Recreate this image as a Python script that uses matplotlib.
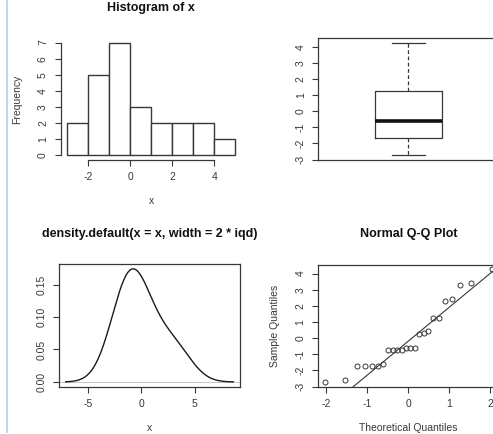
import matplotlib
matplotlib.use("Agg")
import matplotlib.pyplot as plt
from matplotlib.lines import Line2D
import numpy as np
from statistics import NormalDist

plt.rcParams['font.family'] = ['Liberation Sans', 'DejaVu Sans']
plt.rcParams['font.size'] = 7.5
plt.rcParams['axes.unicode_minus'] = False

# sample values (sorted)
x = np.array([-2.72, -2.58, -1.70, -1.70, -1.70, -1.70, -1.58,
              -0.72, -0.72, -0.72, -0.72, -0.60, -0.60, -0.60,
              0.28, 0.32, 0.42, 1.22, 1.25, 2.30, 2.42, 3.27, 3.42, 4.28])
hist_breaks = np.arange(-3, 6, 1)
hist_xticks = [-2, 0, 2, 4]
hist_yticks = [0, 1, 2, 3, 4, 5, 6, 7]
box_yticks = [-3, -2, -1, 0, 1, 2, 3, 4]
dens_xticks = [-5, 0, 5]
dens_yticks = [0.00, 0.05, 0.10, 0.15]
qq_xticks = [-2, -1, 0, 1, 2]
bandwidth = 1.45

W, H = 493, 434
ink = '#383838'
fig = plt.figure(figsize=(W / 100, H / 100), dpi=100)


def panel(left, top, right, bottom):
    return fig.add_axes([left / W, 1 - bottom / H, (right - left) / W, (bottom - top) / H])


def r_range(lo, hi):
    d = (hi - lo) * 0.04
    return lo - d, hi + d


def style(ax, frame=True):
    for s in ax.spines.values():
        s.set_color(ink)
        s.set_linewidth(0.9)
        s.set_visible(frame)
    ax.tick_params(colors=ink, length=4.5, width=0.8, pad=4.5, labelsize=7.5)
    ax.tick_params(axis='y', labelrotation=90)
    for lab in ax.get_yticklabels():
        lab.set_va('center')


def labels(ax, title=None, xlabel=None, ylabel=None, w=181.0, h=122.0):
    if title:
        ax.set_title(title, fontsize=9, fontweight='bold', color='#111111',
                     y=1 + 22 / h, va='center')
    if xlabel:
        ax.set_xlabel(xlabel, color=ink, va='center')
        ax.xaxis.set_label_coords(0.5, -41.5 / h)
    if ylabel:
        ax.set_ylabel(ylabel, color=ink, va='center')
        ax.yaxis.set_label_coords(-43 / w, 0.5)


# histogram
ax1 = panel(60.5, 38, 242, 160)
counts, _ = np.histogram(x, bins=hist_breaks)
ax1.bar(hist_breaks[:-1], counts, width=1, align='edge', color='white',
        edgecolor=ink, linewidth=1.0)
ax1.set_xlim(*r_range(hist_breaks[0], hist_breaks[-1]))
ax1.set_ylim(*r_range(0, counts.max()))
ax1.set_xticks(hist_xticks)
ax1.set_yticks(hist_yticks)
style(ax1, frame=False)
ax1.spines['bottom'].set_visible(True)
ax1.spines['left'].set_visible(True)
ax1.spines['bottom'].set_bounds(hist_xticks[0], hist_xticks[-1])
ax1.spines['left'].set_bounds(hist_yticks[0], hist_yticks[-1])
labels(ax1, 'Histogram of x', 'x', 'Frequency')


# boxplot with Tukey hinges
def fivenum(v):
    v = np.sort(v)
    n = len(v)
    n4 = np.floor((n + 3) / 2) / 2
    d = np.array([1, n4, (n + 1) / 2, n + 1 - n4, n]) - 1
    return 0.5 * (v[np.floor(d).astype(int)] + v[np.ceil(d).astype(int)])


lo, q1, med, q3, hi = fivenum(x)
ax2 = panel(318.3, 38, 498.5, 159.5)
ax2.bxp([dict(whislo=lo, q1=q1, med=med, q3=q3, whishi=hi, fliers=[])],
        positions=[1], widths=0.37, showfliers=False,
        boxprops=dict(color=ink, linewidth=0.9),
        medianprops=dict(color='#111111', linewidth=2.6),
        whiskerprops=dict(color=ink, linewidth=0.9, linestyle=(0, (3, 2))),
        capprops=dict(color=ink, linewidth=0.9), capwidths=0.185)
ax2.set_xlim(0.5, 1.5)
ax2.set_ylim(*r_range(x.min(), x.max()))
ax2.set_yticks(box_yticks)
ax2.set_xticks([])
style(ax2)
ax2.tick_params(axis='x', length=0)

# kernel density
grid = np.linspace(x.min() - 3 * bandwidth, x.max() + 3 * bandwidth, 512)
dens = np.exp(-0.5 * ((grid[:, None] - x[None, :]) / bandwidth) ** 2).sum(axis=1)
dens /= len(x) * bandwidth * np.sqrt(2 * np.pi)
ax3 = panel(59, 264.3, 240, 386.5)
ax3.axhline(0, color='#bbbbbb', linewidth=0.6)
ax3.plot(grid, dens, color='#1a1a1a', linewidth=1.0)
ax3.set_xlim(*r_range(grid[0], grid[-1]))
ax3.set_ylim(*r_range(0, dens.max()))
ax3.set_xticks(dens_xticks)
ax3.set_yticks(dens_yticks)
ax3.set_yticklabels([f'{v:.2f}' for v in dens_yticks])
style(ax3)
labels(ax3, 'density.default(x = x, width = 2 * iqd)', 'x')

# normal Q-Q plot
n = len(x)
theo = np.array([NormalDist().inv_cdf((i - 0.5) / n) for i in range(1, n + 1)])
yq1, yq3 = np.percentile(x, [25, 75])
zq1, zq3 = NormalDist().inv_cdf(0.25), NormalDist().inv_cdf(0.75)
slope = (yq3 - yq1) / (zq3 - zq1)
intercept = yq1 - slope * zq1
ax4 = panel(318, 264.5, 498.5, 386.5)
ax4.plot(theo, np.sort(x), 'o', markerfacecolor='none', markeredgecolor=ink,
         markersize=3.6, markeredgewidth=0.7)
ax4.set_xlim(*r_range(theo.min(), theo.max()))
ax4.set_ylim(*r_range(x.min(), x.max()))
xl = np.array(ax4.get_xlim())
ax4.plot(xl, intercept + slope * xl, color=ink, linewidth=0.8)
ax4.set_xlim(*r_range(theo.min(), theo.max()))
ax4.set_xticks(qq_xticks)
ax4.set_yticks(box_yticks)
style(ax4)
labels(ax4, 'Normal Q-Q Plot', 'Theoretical Quantiles', 'Sample Quantiles', w=180.5)

# window edge
fig.add_artist(Line2D([6.7 / W, 6.7 / W], [0.005, 0.998], color='#b8cce8', linewidth=1.2))

fig.savefig('out.png', dpi=100)
